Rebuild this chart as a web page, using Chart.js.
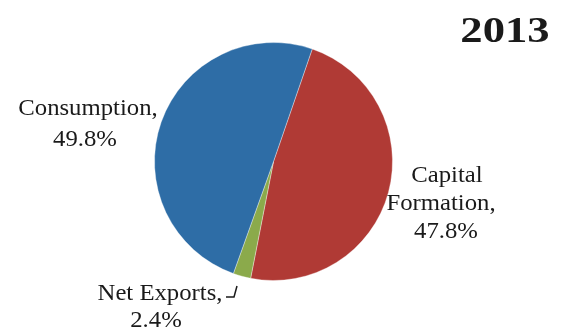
<!DOCTYPE html>
<html>
<head>
<meta charset="utf-8">
<script src="https://cdn.jsdelivr.net/npm/chart.js@4"></script>
<style>
  html, body { margin: 0; padding: 0; background: #fff; }
  #wrap { width: 566px; height: 330px; }
</style>
</head>
<body>
<div id="wrap"><canvas id="cPie" width="566" height="330"></canvas></div>
<script>
/* GDP composition pie, 2013 */
var labels = ["Capital Formation", "Net Exports", "Consumption"];
var shares = [47.8, 2.4, 49.8];
var colors = ["#B03A35", "#8BAA4B", "#2E6DA6"];
var year = "2013";

var SERIF = "'Liberation Serif', 'DejaVu Serif', serif";

// centred text, stretched horizontally by sx
function txt(c, s, x, y, sx) {
  c.save();
  c.translate(x, y);
  c.scale(sx, 1);
  c.fillText(s, 0, 0);
  c.restore();
}

var labelPlugin = {
  id: "pieLabels",
  afterDraw: function(ch) {
    var c = ch.ctx;
    c.save();
    c.fillStyle = "#1a1a1a";
    c.textAlign = "center";
    c.textBaseline = "alphabetic";

    c.font = "bold 36px " + SERIF;
    txt(c, year, 505, 42, 1.24);

    c.font = "24px " + SERIF;
    txt(c, labels[2] + ",", 88, 115, 1.03);
    txt(c, shares[2].toFixed(1) + "%", 85, 146, 1.03);

    txt(c, "Capital", 447, 182, 1.03);
    txt(c, "Formation,", 441, 210, 1.03);
    txt(c, shares[0].toFixed(1) + "%", 446, 238, 1.03);

    txt(c, labels[1] + ",", 160, 300, 1.03);
    txt(c, shares[1].toFixed(1) + "%", 156, 327, 1.03);

    // leader line for Net Exports
    c.strokeStyle = "#1a1a1a";
    c.lineWidth = 1.5;
    c.beginPath();
    c.moveTo(226, 297);
    c.lineTo(234, 297);
    c.lineTo(237, 286);
    c.stroke();
    c.restore();
  }
};

new Chart(document.getElementById("cPie"), {
  type: "pie",
  data: {
    labels: labels,
    datasets: [{
      data: shares,
      backgroundColor: colors,
      borderColor: "rgba(255,255,255,.35)",
      borderWidth: 1
    }]
  },
  options: {
    responsive: false,
    animation: false,
    rotation: 19,
    layout: { padding: { left: 154, right: 173, top: 42, bottom: 49 } },
    plugins: {
      legend: { display: false },
      tooltip: { enabled: false }
    }
  },
  plugins: [labelPlugin]
});
</script>
</body>
</html>
